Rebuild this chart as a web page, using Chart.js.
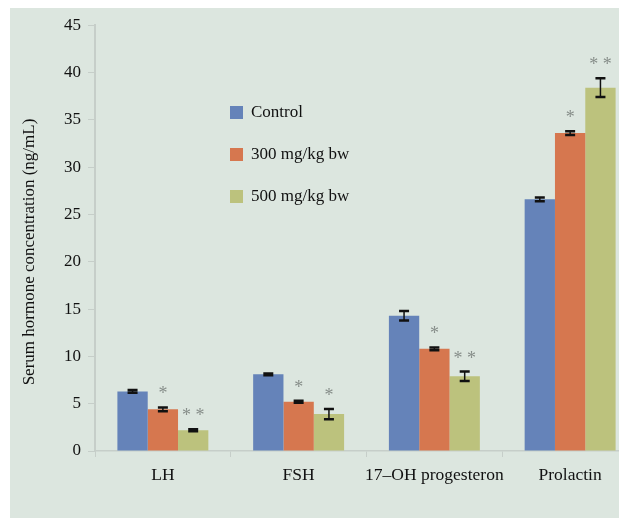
<!DOCTYPE html>
<html>
<head>
<meta charset="utf-8">
<title>Serum hormone concentration</title>
<script src="https://cdn.jsdelivr.net/npm/chart.js@4.4.1/dist/chart.umd.min.js"></script>
<style>
  html, body { margin: 0; padding: 0; background: #fff; overflow: hidden; }
  #panel { position: absolute; left: 10px; top: 8px; width: 609px; height: 510px; background: #dce6df; overflow: hidden; }
  #hormoneChart { position: absolute; left: 0; top: 0; }
  #legend { position: absolute; left: 220px; top: 94px; font-family: 'Liberation Serif', serif; font-size: 17px; color: #111; }
  .item { display: flex; align-items: center; height: 20px; margin-bottom: 22px; }
  .box { width: 13px; height: 13px; margin-right: 8px; }
</style>
</head>
<body>
<div id="panel">
  <canvas id="hormoneChart" width="640" height="510"></canvas>
  <div id="legend"></div>
</div>
<script>
const categories = ['LH', 'FSH', '17–OH progesteron', 'Prolactin'];
const seriesNames = ['Control', '300 mg/kg bw', '500 mg/kg bw'];
const seriesColors = ['#6583b9', '#d6774f', '#bcc27d'];

const controlValues = [6.3, 8.1, 14.3, 26.6];
const dose300Values = [4.4, 5.2, 10.8, 33.6];
const dose500Values = [2.2, 3.9, 7.9, 38.4];

const controlErrors = [0.15, 0.1, 0.5, 0.2];
const dose300Errors = [0.2, 0.1, 0.15, 0.2];
const dose500Errors = [0.1, 0.55, 0.5, 1.0];

const controlStars = ['', '', '', ''];
const dose300Stars = ['*', '*', '*', '*'];
const dose500Stars = ['* *', '*', '* *', '* *'];

const yTicks = [0, 5, 10, 15, 20, 25, 30, 35, 40, 45];

const allValues = [controlValues, dose300Values, dose500Values];
const allErrors = [controlErrors, dose300Errors, dose500Errors];
const allStars = [controlStars, dose300Stars, dose500Stars];

// error bars, significance stars and the y title
const errorBars = {
    id: 'errorBars',
    afterDatasetsDraw(chart) {
        const ctx = chart.ctx;
        const y = chart.scales.y;
        ctx.save();
        allValues.forEach((vals, i) => {
            const meta = chart.getDatasetMeta(i);
            meta.data.forEach((bar, j) => {
                const hi = y.getPixelForValue(vals[j] + allErrors[i][j]);
                const lo = y.getPixelForValue(vals[j] - allErrors[i][j]);
                ctx.strokeStyle = '#111';
                ctx.lineWidth = 1.5;
                ctx.beginPath();
                ctx.moveTo(bar.x, hi);
                ctx.lineTo(bar.x, lo);
                ctx.stroke();
                ctx.lineWidth = 2.5;
                ctx.beginPath();
                ctx.moveTo(bar.x - 5, hi);
                ctx.lineTo(bar.x + 5, hi);
                ctx.moveTo(bar.x - 5, lo);
                ctx.lineTo(bar.x + 5, lo);
                ctx.stroke();
                if (allStars[i][j]) {
                    ctx.fillStyle = '#868d89';
                    ctx.font = '18px "Liberation Serif"';
                    ctx.textAlign = 'center';
                    ctx.textBaseline = 'alphabetic';
                    ctx.fillText(allStars[i][j], bar.x, hi - 8);
                }
            });
        });
        ctx.translate(20, 244);
        ctx.rotate(-Math.PI / 2);
        ctx.fillStyle = '#111';
        ctx.font = '17px "Liberation Serif"';
        ctx.textAlign = 'center';
        ctx.textBaseline = 'middle';
        ctx.fillText('Serum hormone concentration (ng/mL)', 0, 0);
        ctx.restore();
    }
};

const legend = document.getElementById('legend');
seriesNames.forEach((name, i) => {
    const row = document.createElement('div');
    row.className = 'item';
    row.innerHTML = '<span class="box" style="background:' + seriesColors[i] + '"></span>' + name;
    legend.appendChild(row);
});

const ctx = document.getElementById('hormoneChart').getContext('2d');
const hormoneChart = new Chart(ctx, {
    type: 'bar',
    data: {
        labels: categories,
        datasets: allValues.map((vals, i) => ({
            label: seriesNames[i],
            data: vals,
            backgroundColor: seriesColors[i],
            borderWidth: 0,
            categoryPercentage: 0.67,
            barPercentage: 1.0
        }))
    },
    options: {
        responsive: false,
        animation: false,
        layout: { padding: { top: 16, right: 12, left: 0, bottom: 0 } },
        plugins: {
            legend: { display: false },
            tooltip: { enabled: false }
        },
        scales: {
            x: {
                afterFit(scale) { scale.height = 67; },
                border: { color: '#c6cec9', width: 1.5 },
                grid: { drawOnChartArea: false, tickLength: 6, color: '#c6cec9' },
                ticks: {
                    padding: 8,
                    maxRotation: 0,
                    minRotation: 0,
                    autoSkip: false,
                    color: '#111',
                    font: { family: 'Liberation Serif', size: 17.5 }
                }
            },
            y: {
                min: 0,
                max: 45,
                afterFit(scale) { scale.width = 85; },
                afterBuildTicks(scale) { scale.ticks = yTicks.map(v => ({ value: v })); },
                border: { color: '#c6cec9', width: 2 },
                grid: { drawOnChartArea: false, tickLength: 7, color: '#c6cec9' },
                ticks: {
                    padding: 7,
                    color: '#111',
                    font: { family: 'Liberation Serif', size: 17 }
                }
            }
        }
    },
    plugins: [errorBars]
});
</script>
</body>
</html>
